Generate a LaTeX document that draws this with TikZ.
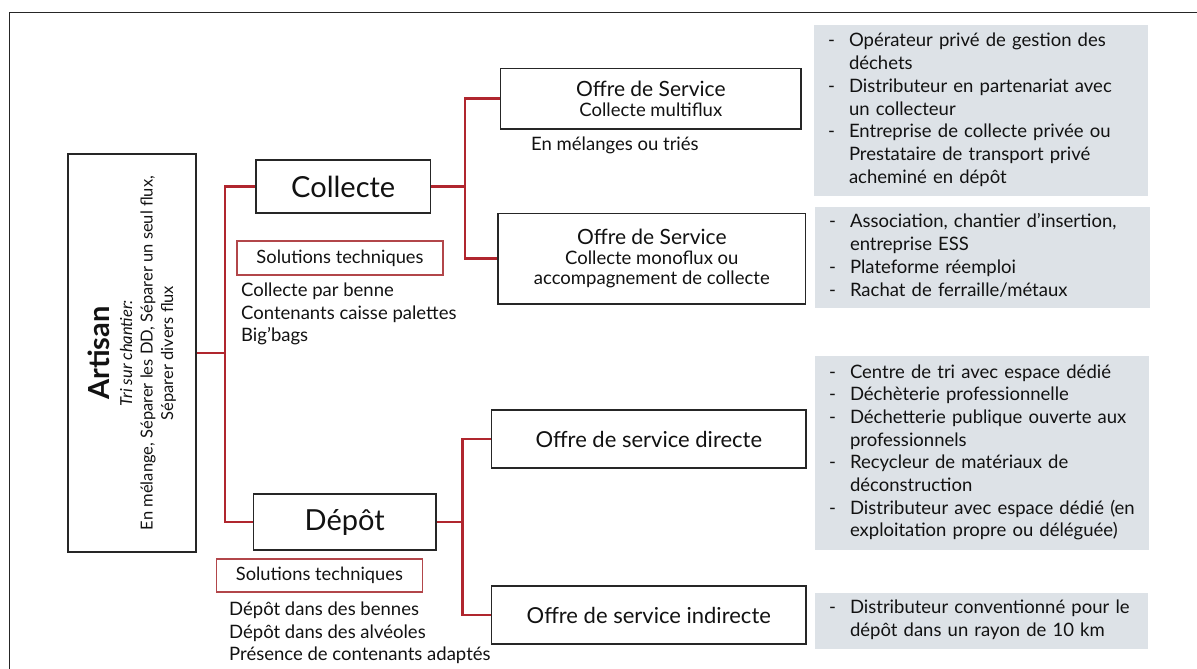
\documentclass[tikz,border=0pt]{standalone}
\usepackage{fontspec}
\setmainfont{Lato}
\usetikzlibrary{backgrounds}
\definecolor{linkred}{RGB}{176,38,46}
\definecolor{soltred}{RGB}{178,70,74}
\definecolor{grayfill}{RGB}{221,226,231}
\definecolor{boxline}{RGB}{38,38,38}
\definecolor{txt}{RGB}{18,18,18}
\begin{document}
\begin{tikzpicture}[x=1pt,y=-1pt,
  box/.style={draw=boxline, line width=1.6pt, fill=white, inner sep=0pt, align=center, text=txt},
  link/.style={draw=linkred, line width=2.8pt, line cap=rect},
  soltbox/.style={draw=soltred, line width=1.1pt, fill=white, inner sep=0pt, text=txt,
     font=\fontsize{18.3}{20}\selectfont},
  greybox/.style={fill=grayfill, inner xsep=14pt, inner ysep=0pt, align=left, text=txt,
     font=\fontsize{18.5}{22.7}\selectfont},
  bodytext/.style={inner sep=0pt, align=left, text=txt, font=\fontsize{18.5}{22.5}\selectfont},
  bigtitle/.style={font=\fontsize{29}{32}\selectfont},
  offretwo/.style={font=\fontsize{18.5}{20}\selectfont},
  offretitle/.style={font=\fontsize{22}{24}\selectfont}
]
\useasboundingbox (0,0) rectangle (1197,669);
\clip (0,0) rectangle (1197,669);
% outer frame
\draw[line width=1.3pt, black!85] (9.5,680) -- (9.5,12.7) -- (1210,12.7);

% main boxes
\node[box, rotate=90, minimum width=398pt, minimum height=128pt,
      font=\fontsize{16.5}{20.5}\selectfont] (artisan) at (132,353)
  {{\fontsize{29}{30}\selectfont\bfseries Artisan}\\[2pt]
   {\itshape Tri sur chantier:}\\
   En mélange, Séparer les DD, Séparer un seul flux,\\
   Séparer divers flux};
\node[box, bigtitle, minimum width=174.5pt, minimum height=52.7pt] (collecte) at (343.2,186.5) {Collecte};
\node[box, bigtitle, minimum width=182.5pt, minimum height=56pt] (depot) at (344.7,522) {Dépôt};

\node[box, offretwo, minimum width=300.4pt, minimum height=60.7pt] (offre1) at (650.8,98.7)
  {{\fontsize{21}{22}\selectfont Offre de Service}\\
   Collecte multiflux};
\node[box, offretwo, minimum width=307.6pt, minimum height=90.7pt] (offre2) at (651.8,258.7)
  {{\fontsize{21}{22}\selectfont Offre de Service}\\
   Collecte monoflux ou\\
   accompagnement de collecte};
\node[box, offretitle, minimum width=314.3pt, minimum height=58pt] (directe) at (648.8,439) {Offre de service directe};
\node[box, offretitle, minimum width=314.3pt, minimum height=58pt] (indirecte) at (648.8,615) {Offre de service indirecte};

% solutions techniques
\node[soltbox, minimum width=206pt, minimum height=34pt] (sol1) at (340,258) {Solutions techniques};
\node[soltbox, minimum width=206.7pt, minimum height=33pt] (sol2) at (319.4,575.5) {Solutions techniques};

\node[bodytext, anchor=west] (list1) at (241,314)
  {Collecte par benne\\Contenants caisse palettes\\Big’bags};
\node[bodytext, anchor=west] (list2) at (229,633)
  {Dépôt dans des bennes\\Dépôt dans des alvéoles\\Présence de contenants adaptés};
\node[bodytext, anchor=west] (melange) at (531,145.7) {En mélanges ou triés};

% grey boxes
\node[greybox, text width=306pt, minimum height=171pt] (g1) at (981,110.5)
  {\begin{tabular}{@{}p{21pt}@{}l@{}}
   - & Opérateur privé de gestion des\\
     & déchets\\
   - & Distributeur en partenariat avec\\
     & un collecteur\\
   - & Entreprise de collecte privée ou\\
     & Prestataire de transport privé\\
     & acheminé en dépôt
   \end{tabular}};
\node[greybox, text width=307pt, minimum height=101.6pt] (g2) at (982.5,257.5)
  {\begin{tabular}{@{}p{21pt}@{}l@{}}
   - & Association, chantier d’insertion,\\
     & entreprise ESS\\
   - & Plateforme réemploi\\
   - & Rachat de ferraille/métaux
   \end{tabular}};
\node[greybox, text width=306pt, minimum height=194pt] (g3) at (982,453)
  {\begin{tabular}{@{}p{21pt}@{}l@{}}
   - & Centre de tri avec espace dédié\\
   - & Déchèterie professionnelle\\
   - & Déchetterie publique ouverte aux\\
     & professionnels\\
   - & Recycleur de matériaux de\\
     & déconstruction\\
   - & Distributeur avec espace dédié (en\\
     & exploitation propre ou déléguée)
   \end{tabular}};
\node[greybox, text width=305pt, minimum height=56.3pt] (g4) at (981.5,620.8)
  {\begin{tabular}{@{}p{21pt}@{}l@{}}
   - & Distributeur conventionné pour le\\
     & dépôt dans un rayon de 10 km
   \end{tabular}};

% connectors
\coordinate (jA) at (225,353);
\coordinate (jC) at (465,186.5);
\coordinate (jD) at (462.5,522);
\begin{scope}[on background layer]
\draw[link] (artisan.south) -- (jA);
\draw[link] (collecte.west) -| (jA);
\draw[link] (depot.west) -| (jA);
\draw[link] (collecte.east) -- (jC);
\draw[link] (offre1.west) -| (jC);
\draw[link] (offre2.west) -| (jC);
\draw[link] (depot.east) -- (jD);
\draw[link] (directe.west) -| (jD);
\draw[link] (indirecte.west) -| (jD);
\end{scope}
\end{tikzpicture}
\end{document}
